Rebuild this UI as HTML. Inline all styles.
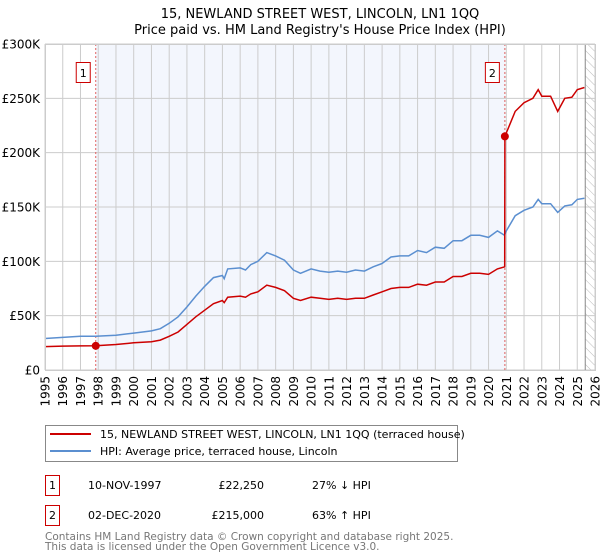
<!DOCTYPE html>
<html><head><meta charset="utf-8"><style>
body{margin:0;background:#fff;font-family:"DejaVu Sans","Liberation Sans",sans-serif;}
svg{display:block}
</style></head><body>
<svg id="c" width="600" height="560" xmlns="http://www.w3.org/2000/svg" font-family="DejaVu Sans, Liberation Sans, sans-serif">
<text x="320" y="18" text-anchor="middle" font-size="13">15, NEWLAND STREET WEST, LINCOLN, LN1 1QQ</text>
<text x="320" y="34" text-anchor="middle" font-size="13">Price paid vs. HM Land Registry's House Price Index (HPI)</text>
<defs><pattern id="hatch" width="6" height="6" patternUnits="userSpaceOnUse" patternTransform="rotate(-45)"><line x1="0" y1="0" x2="0" y2="6" stroke="#bbb" stroke-width="1"/></pattern></defs>
<g id="plot"></g>
<g>
<rect x="45.5" y="425.5" width="412" height="36" fill="#fff" stroke="#888"/>
<line x1="50" y1="434" x2="91" y2="434" stroke="#cc0000" stroke-width="2"/>
<text x="100" y="438" font-size="11">15, NEWLAND STREET WEST, LINCOLN, LN1 1QQ (terraced house)</text>
<line x1="50" y1="451" x2="91" y2="451" stroke="#5b8fd0" stroke-width="2"/>
<text x="100" y="455" font-size="11">HPI: Average price, terraced house, Lincoln</text>
</g>
<g font-size="11">
<rect x="45.5" y="475.5" width="14" height="20" fill="#fff" stroke="#cc0000"/>
<text x="52.5" y="489" text-anchor="middle">1</text>
<text x="88" y="489">10-NOV-1997</text>
<text x="264" y="489" text-anchor="end">£22,250</text>
<text x="312" y="489">27% ↓ HPI</text>
<rect x="45.5" y="505.5" width="14" height="20" fill="#fff" stroke="#cc0000"/>
<text x="52.5" y="519" text-anchor="middle">2</text>
<text x="88" y="519">02-DEC-2020</text>
<text x="264" y="519" text-anchor="end">£215,000</text>
<text x="312" y="519">63% ↑ HPI</text>
</g>
<text x="45" y="540" font-size="10.5" fill="#777">Contains HM Land Registry data © Crown copyright and database right 2025.</text>
<text x="45" y="550" font-size="10.5" fill="#777">This data is licensed under the Open Government Licence v3.0.</text>
</svg>
<script>
const hpiYears=[1995,1996,1997,1997.86,1999,2000,2001,2001.5,2002,2002.5,2003,2003.5,2004,2004.5,2005,2005.1,2005.3,2006,2006.3,2006.6,2007,2007.5,2008,2008.5,2009,2009.4,2010,2010.5,2011,2011.5,2012,2012.5,2013,2013.5,2014,2014.5,2015,2015.5,2016,2016.5,2017,2017.5,2018,2018.5,2019,2019.5,2020,2020.5,2020.9,2021,2021.5,2022,2022.5,2022.8,2023,2023.5,2023.9,2024.3,2024.7,2025,2025.4];
const hpiValues=[29,30,31,31,32,34,36,38,43,49,58,68,77,85,87,84,93,94,92,97,100,108,105,101,92,89,93,91,90,91,90,92,91,95,98,104,105,105,110,108,113,112,119,119,124,124,122,128,124,128,142,147,150,157,153,153,145,151,152,157,158];
const priceYears=[1995,1996,1997,1997.86,1999,2000,2001,2001.5,2002,2002.5,2003,2003.5,2004,2004.5,2005,2005.1,2005.3,2006,2006.3,2006.6,2007,2007.5,2008,2008.5,2009,2009.4,2010,2010.5,2011,2011.5,2012,2012.5,2013,2013.5,2014,2014.5,2015,2015.5,2016,2016.5,2017,2017.5,2018,2018.5,2019,2019.5,2020,2020.5,2020.91,2020.92,2021.5,2022,2022.5,2022.8,2023,2023.5,2023.9,2024.3,2024.7,2025,2025.4];
const priceValues=[21.5,22,22.2,22.25,23.5,25,26,27.5,31,35,42,49,55,61,64,62,67,68,67,70,72,78,76,73,66,64,67,66,65,66,65,66,66,69,72,75,76,76,79,78,81,81,86,86,89,89,88,93,95,215,238,246,250,258,252,252,238,250,251,258,260];
const sales=[{n:'1',year:1997.86,value:22.25},{n:'2',year:2020.92,value:215}];
const yTicks=[0,50,100,150,200,250,300];
const yTickLabels=['£0','£50K','£100K','£150K','£200K','£250K','£300K'];
const xTicks=[1995,1996,1997,1998,1999,2000,2001,2002,2003,2004,2005,2006,2007,2008,2009,2010,2011,2012,2013,2014,2015,2016,2017,2018,2019,2020,2021,2022,2023,2024,2025,2026];
const dataEnd=2025.45;

const L=45,R=595,T=44,B=370;
const X=y=>L+(y-1995)/(2026-1995)*(R-L);
const Y=v=>B-v/300*(B-T);
const ns='http://www.w3.org/2000/svg';
const g=document.getElementById('plot');
function mk(t,a,p){const e=document.createElementNS(ns,t);for(const k in a)e.setAttribute(k,a[k]);(p||g).appendChild(e);return e;}

const sh=mk('rect',{x:X(sales[0].year),y:T,width:X(sales[1].year)-X(sales[0].year),height:B-T,fill:'#f3f6fd'});


const ht=mk('rect',{x:X(dataEnd),y:T,width:R-X(dataEnd),height:B-T,fill:'url(#hatch)'});



xTicks.forEach(t=>{
  const l=mk('line',{x1:X(t),x2:X(t),y1:T,y2:B,stroke:'#ccc','stroke-width':1});
  
  
  const tx=mk('text',{x:0,y:0,transform:`translate(${X(t)+4.5},${B+6}) rotate(-90)`,'text-anchor':'end','font-size':12});
  tx.textContent=t;
  
  
});
yTicks.forEach((t,i)=>{
  const l=mk('line',{x1:L,x2:R,y1:Y(t),y2:Y(t),stroke:'#ccc','stroke-width':1});
  
  
  const tx=mk('text',{x:L-5,y:Y(t)+4.5,'text-anchor':'end','font-size':12});
  tx.textContent=yTickLabels[i];
  
  
});
const el=mk('line',{x1:X(dataEnd),x2:X(dataEnd),y1:T,y2:B,stroke:'#888','stroke-width':1});



sales.forEach(s=>{
  const l=mk('line',{x1:X(s.year),x2:X(s.year),y1:T,y2:B,stroke:'#e06060','stroke-width':1,'stroke-dasharray':'2,2'});
  
  
  const bx=X(s.year);
  const r=mk('rect',{x:bx-19.5,y:62.5,width:14,height:20,fill:'#fff',stroke:'#cc0000'});
  
  
  const tx=mk('text',{x:bx-12.5,y:77,'text-anchor':'middle','font-size':11});
  tx.textContent=s.n;
  
  
});

const hp=mk('polyline',{points:hpiYears.map((y,i)=>X(y).toFixed(1)+','+Y(hpiValues[i]).toFixed(1)).join(' '),fill:'none',stroke:'#5b8fd0','stroke-width':1.5});


const pp=mk('polyline',{points:priceYears.map((y,i)=>X(y).toFixed(1)+','+Y(priceValues[i]).toFixed(1)).join(' '),fill:'none',stroke:'#cc0000','stroke-width':1.5});


sales.forEach(s=>{
  const c=mk('circle',{cx:X(s.year),cy:Y(s.value),r:4,fill:'#cc0000'});
  
  
});
const fr=mk('rect',{x:L+0.5,y:T+0.5,width:R-L,height:B-T,fill:'none',stroke:'#ccc'});


</script>
</body></html>
